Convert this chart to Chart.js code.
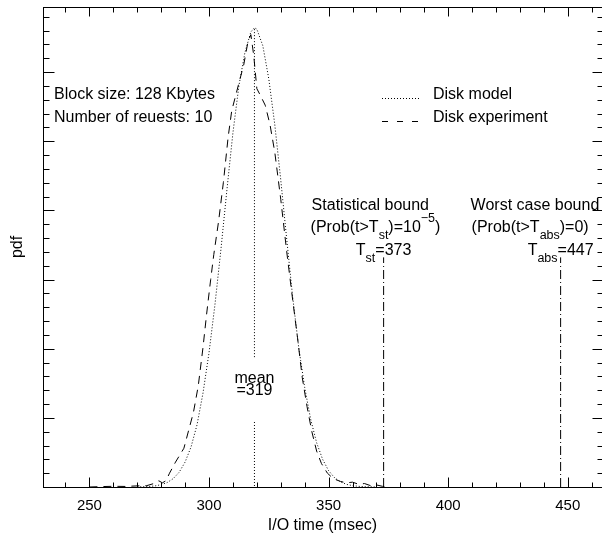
<!DOCTYPE html>
<html>
<head>
<meta charset="utf-8">
<script src="https://cdn.jsdelivr.net/npm/chart.js@4.4.0/dist/chart.umd.min.js"></script>
<style>
  html, body { margin: 0; padding: 0; background: #fff; }
</style>
</head>
<body>
<canvas id="pdf-chart" width="602" height="536"></canvas>
<script>
// I/O time (msec) and pdf
const modelTimes = [270, 272.5, 275, 277.5, 280, 282.5, 285, 287.5, 290, 292.5,
    295, 297.5, 300, 302.5, 305, 307.5, 310, 312.5, 315, 317.5,
    319, 320, 322.5, 325, 327.5, 330, 332.5, 335, 337.5, 340,
    342.5, 345, 347.5, 350, 352.5, 355, 357.5, 360, 362.5, 365, 370];
const modelPdf = [0.00001, 0.00002, 0.00004, 0.00008, 0.00017, 0.00032, 0.0006, 0.00106, 0.0018, 0.0029,
    0.0045, 0.0068, 0.0097, 0.0132, 0.0172, 0.0215, 0.0256, 0.029, 0.0314, 0.0329,
    0.0332, 0.0331, 0.0319, 0.0295, 0.0262, 0.0222, 0.0179, 0.0137, 0.0101, 0.0072,
    0.0049, 0.0032, 0.002, 0.00118, 0.00067, 0.00037, 0.00019, 0.0001, 0.00005, 0.00002, 0];

const expTimes = [250, 255, 260, 265, 270, 274, 277, 279, 280.5, 282,
    283.5, 286, 289.5, 291.5, 293.5, 295.5, 297.5, 299, 300.7, 302,
    304, 306, 308, 309.5, 311, 312.5, 314.5, 316.3, 317.5, 318.7,
    320, 321.5, 323.5, 325.5, 327.5, 330, 332.5, 335, 337, 339,
    341, 343, 345, 347, 349.5, 352, 355, 357.5, 360, 362.5,
    365, 367.5, 370, 372.5, 375];
const expPdf = [0, 0.00003, 0.00005, 0.00004, 0.00008, 0.0001, 0.00025, 0.00045, 0.0003, 0.00045,
    0.001, 0.0018, 0.0028, 0.0041, 0.0054, 0.0073, 0.0101, 0.0125, 0.015, 0.0168,
    0.0192, 0.022, 0.0253, 0.0272, 0.0282, 0.0292, 0.0305, 0.0322, 0.0327, 0.0312,
    0.0288, 0.0283, 0.0276, 0.0262, 0.0242, 0.0208, 0.017, 0.0135, 0.0108, 0.0079,
    0.0058, 0.004, 0.0026, 0.0017, 0.001, 0.0006, 0.0004, 0.0003, 0.00035, 0.0002,
    0.00025, 0.0001, 0.00015, 0.00005, 0];

const meanTime = 319;
const meanLineTop = 0.0331;
const meanGap = [0.0093, 0.0047];   // where the "mean =319" label cuts the line
const statBound = 373;
const worstBound = 447;
const boundTop = 0.0166;

const xTicks = [240, 250, 260, 270, 280, 290, 300, 310, 320, 330, 340, 350,
    360, 370, 380, 390, 400, 410, 420, 430, 440, 450, 460];
const xMajor = [250, 300, 350, 400, 450];
const yTicks = [0.001, 0.002, 0.003, 0.004, 0.005, 0.006, 0.007, 0.008, 0.009, 0.010,
    0.011, 0.012, 0.013, 0.014, 0.015, 0.016, 0.017, 0.018, 0.019, 0.020,
    0.021, 0.022, 0.023, 0.024, 0.025, 0.026, 0.027, 0.028, 0.029, 0.030,
    0.031, 0.032, 0.033, 0.034];
const yMajor = [0.005, 0.010, 0.015, 0.020, 0.025, 0.030];

const family = '"Liberation Sans", Arial, sans-serif';
const font = (size) => size + 'px ' + family;
const dotted = [1, 2];
const dashed = [8, 6];
const dashDot = [9, 3, 1, 3];

const toPoints = (xs, ys) => xs.map((t, i) => ({ x: t, y: ys[i] }));

// draws a line of text with sub/superscripts; parts = [[text, 'n'|'sub'|'sup'], ...]
const richText = (ctx, parts, x, y, align) => {
    const size = { n: 16, sub: 12.5, sup: 12.5 };
    const shift = { n: 0, sub: 7, sup: -10 };
    let w = 0;
    parts.forEach(([t, k]) => { ctx.font = font(size[k]); w += ctx.measureText(t).width; });
    let cx = align === 'center' ? x - w / 2 : x;
    parts.forEach(([t, k]) => {
        ctx.font = font(size[k]);
        ctx.fillText(t, cx, y + shift[k]);
        cx += ctx.measureText(t).width;
    });
};

const framePlugin = {
    id: 'frameAndText',
    afterDatasetsDraw(chart) {
        const { ctx, chartArea: a, scales: { x, y } } = chart;
        ctx.save();
        ctx.strokeStyle = '#000';
        ctx.fillStyle = '#000';
        ctx.lineWidth = 1;
        ctx.setLineDash([]);
        const L = Math.round(a.left) + 0.5, R = Math.round(a.right) + 0.5;
        const T = Math.round(a.top) + 0.5, B = Math.round(a.bottom) + 0.5;
        ctx.strokeRect(L, T, R - L, B - T);

        ctx.beginPath();
        xTicks.forEach(v => {
            const p = Math.round(x.getPixelForValue(v)) + 0.5;
            const big = xMajor.includes(v);
            ctx.moveTo(p, B); ctx.lineTo(p, B - (big ? 10 : 5));
            ctx.moveTo(p, T); ctx.lineTo(p, T + (big ? 9 : 5));
        });
        yTicks.forEach(v => {
            const p = Math.round(y.getPixelForValue(v)) + 0.5;
            const big = yMajor.includes(v);
            ctx.moveTo(L, p); ctx.lineTo(L + (big ? 11 : 6), p);
            ctx.moveTo(R, p); ctx.lineTo(R - (big ? 10 : 5), p);
        });
        ctx.stroke();

        ctx.textBaseline = 'alphabetic';
        ctx.textAlign = 'left';
        ctx.font = font(16);
        ctx.fillText('Block size: 128 Kbytes', a.left + 11, 99);
        ctx.fillText('Number of reuests: 10', a.left + 11, 122);

        // legend
        ctx.fillText('Disk model', 433, 99);
        ctx.fillText('Disk experiment', 433, 122);
        ctx.beginPath();
        ctx.setLineDash(dotted);
        ctx.moveTo(382, 98.5); ctx.lineTo(421, 98.5);
        ctx.stroke();
        ctx.beginPath();
        ctx.setLineDash([6, 9]);
        ctx.moveTo(382, 121.5); ctx.lineTo(419, 121.5);
        ctx.stroke();
        ctx.setLineDash([]);

        const sx = x.getPixelForValue(statBound);
        const wx = x.getPixelForValue(worstBound);
        const mx = x.getPixelForValue(meanTime);

        ctx.font = font(16);
        ctx.fillText('Statistical bound', sx - 72, 210);
        richText(ctx, [['(Prob(t>T', 'n'], ['st', 'sub'], [')=10', 'n'], ['\u22125', 'sup'], [')', 'n']], sx - 73, 232, 'left');
        richText(ctx, [['T', 'n'], ['st', 'sub'], ['=373', 'n']], sx, 255, 'center');

        ctx.font = font(16);
        ctx.fillText('Worst case bound', wx - 90, 210);
        richText(ctx, [['(Prob(t>T', 'n'], ['abs', 'sub'], [')=0)', 'n']], wx - 89, 232, 'left');
        richText(ctx, [['T', 'n'], ['abs', 'sub'], ['=447', 'n']], wx, 255, 'center');

        ctx.textAlign = 'center';
        ctx.font = font(16);
        ctx.fillText('mean', mx, 383);
        ctx.fillText('=319', mx, 395);
        ctx.restore();
    }
};

const lineStyle = { borderColor: '#000', borderWidth: 1, pointRadius: 0, tension: 0, fill: false };

new Chart(document.getElementById('pdf-chart').getContext('2d'), {
    type: 'line',
    data: {
        datasets: [
            { ...lineStyle, label: 'Disk model', data: toPoints(modelTimes, modelPdf), borderDash: dotted },
            { ...lineStyle, label: 'Disk experiment', data: toPoints(expTimes, expPdf), borderDash: dashed },
            {
                ...lineStyle, label: 'mean', borderDash: dotted, spanGaps: false,
                data: [{ x: meanTime, y: meanLineTop }, { x: meanTime, y: meanGap[0] },
                    { x: meanTime, y: null }, { x: meanTime, y: meanGap[1] }, { x: meanTime, y: 0 }]
            },
            { ...lineStyle, label: 'T_st', borderDash: dashDot, data: [{ x: statBound, y: 0 }, { x: statBound, y: boundTop }] },
            { ...lineStyle, label: 'T_abs', borderDash: dashDot, data: [{ x: worstBound, y: 0 }, { x: worstBound, y: boundTop }] }
        ]
    },
    options: {
        responsive: false,
        animation: false,
        layout: { padding: { top: 7, right: 0, left: 0, bottom: 0 } },
        plugins: { legend: { display: false }, tooltip: { enabled: false } },
        scales: {
            x: {
                type: 'linear',
                min: 230.6,
                max: 464.3,
                afterFit: (s) => { s.height = 49; },
                grid: { display: false, drawTicks: false },
                border: { display: false },
                ticks: {
                    stepSize: 50,
                    includeBounds: false,
                    maxRotation: 0,
                    padding: 10,
                    color: '#000',
                    font: { family: family, size: 15 }
                },
                title: {
                    display: true,
                    text: 'I/O time (msec)',
                    color: '#000',
                    font: { family: family, size: 16 },
                    padding: { top: 0, bottom: 1 }
                }
            },
            y: {
                type: 'linear',
                min: 0,
                max: 0.0347,
                afterFit: (s) => { s.width = 43; },
                grid: { display: false, drawTicks: false },
                border: { display: false },
                ticks: { display: false },
                title: {
                    display: true,
                    text: 'pdf',
                    color: '#000',
                    font: { family: family, size: 16 },
                    padding: { top: 8, bottom: 0 }
                }
            }
        }
    },
    plugins: [framePlugin]
});
</script>
</body>
</html>
